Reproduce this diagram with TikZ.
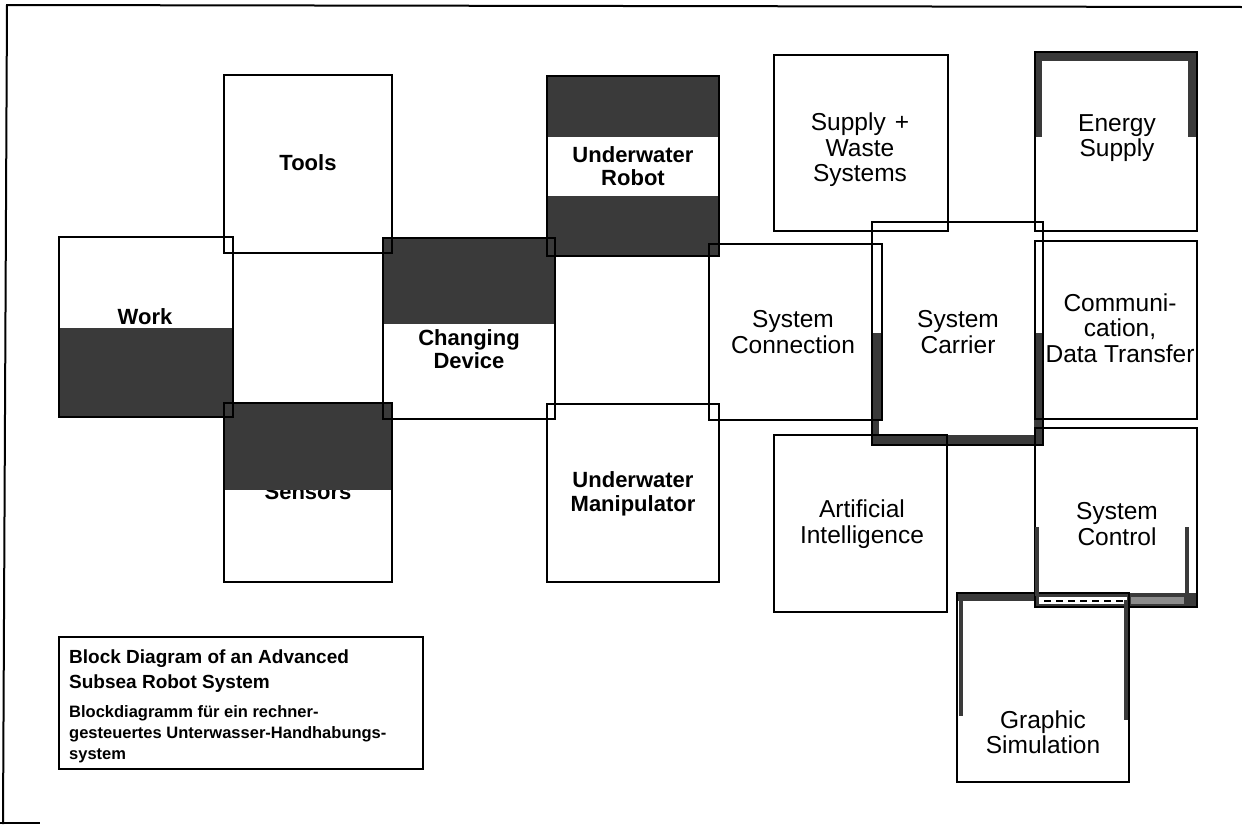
\documentclass[tikz,border=0pt]{standalone}
\usepackage{fontspec}
\setmainfont{Liberation Sans}
\usetikzlibrary{fit}
\definecolor{shade}{HTML}{3A3A3A}
\tikzset{
  blk/.style={draw=black, line width=1.4pt, inner sep=0pt, outer sep=0pt},
  lblL/.style={font=\fontsize{22}{23.5}\selectfont\bfseries, align=center, inner sep=0pt},
  lblR/.style={font=\fontsize{24.5}{25.5}\selectfont, align=center, inner sep=0pt},
  capT/.style={font=\fontsize{19}{24}\selectfont\bfseries, anchor=base west, inner sep=0pt},
  capS/.style={font=\fontsize{16.5}{21}\selectfont\bfseries, anchor=base west, inner sep=0pt},
  band/.style={fill=shade, draw=none},
  stroke/.style={draw=shade, line width=3.5pt},
}
\begin{document}
\begin{tikzpicture}[x=1pt,y=-1pt]
\useasboundingbox (0,0) rectangle (1242,825);
\fill[white] (0,0) rectangle (1242,825);

% outer frame (open on the right)
\coordinate (fbl) at (3,824);
\coordinate (ftl) at (7,5);
\coordinate (ftr) at (1242,7);
\coordinate (fb0) at (0,823);
\coordinate (fb1) at (40,823);
\draw[line width=2pt] (fbl) -- (ftl) -- (ftr);
\draw[line width=1.5pt] (fb0) -- (fb1);

% label partly hidden under the shaded band
\node[lblL, anchor=base] (lsens) at (308,499) {Sensors};

% shaded bands
\fill[band] (59,328) rectangle (233,417);     % work
\fill[band] (224,403) rectangle (392,490);    % sensors
\fill[band] (383,238) rectangle (555,324);    % changing device
\fill[band] (547,76) rectangle (719,137);     % robot, upper
\fill[band] (547,196) rectangle (719,256);    % robot, lower
% system carrier rim
\fill[band] (872,333) rectangle (882,421);
\fill[band] (872,421) rectangle (879,436);
\fill[band] (872,435) rectangle (1043,446);
\fill[band] (1034,333) rectangle (1043,446);
% energy supply rim
\fill[band] (1035,52) rectangle (1197,61);
\fill[band] (1035,52) rectangle (1042,137);
\fill[band] (1188,52) rectangle (1197,137);
% system control / graphic simulation seam
\fill[band] (1035,593) rectangle (1197,607);
\fill[white] (1039,597) rectangle (1127,604);
\fill[black!45] (1131,597) rectangle (1184,604);
\draw[shade, line width=1.5pt, dash pattern=on 7pt off 5pt] (1044,601) -- (1124,601);
\fill[band] (957,593) rectangle (1035,601);

% blocks
\node[blk, fit={(224,75) (392,253)}] (tools) {};
\node[blk, fit={(59,237) (233,417)}] (work) {};
\node[blk, fit={(224,403) (392,582)}] (sensors) {};
\node[blk, fit={(383,238) (555,419)}] (changer) {};
\node[blk, fit={(547,76) (719,256)}] (robot) {};
\node[blk, fit={(547,404) (719,582)}] (manip) {};
\node[blk, fit={(709,244) (882,420)}] (sysconn) {};
\node[blk, fit={(872,222) (1043,445)}] (carrier) {};
\node[blk, fit={(774,55) (948,231)}] (supply) {};
\node[blk, fit={(1035,52) (1197,231)}] (energy) {};
\node[blk, fit={(1035,241) (1197,419)}] (comm) {};
\node[blk, fit={(774,435) (947,612)}] (ai) {};
\node[blk, fit={(1035,428) (1197,607)}] (control) {};
\node[blk, fit={(957,593) (1129,782)}] (graphic) {};

% inner strokes
\coordinate (c1a) at (1187,527); \coordinate (c1b) at (1187,600);
\coordinate (c2a) at (1037,527); \coordinate (c2b) at (1037,596);
\coordinate (g1a) at (961,600);  \coordinate (g1b) at (961,716);
\coordinate (g2a) at (1126,600); \coordinate (g2b) at (1126,720);
\draw[stroke] (c1a) -- (c1b);
\draw[stroke] (c2a) -- (c2b);
\draw[stroke] (g1a) -- (g1b);
\draw[stroke] (g2a) -- (g2b);

% labels
\node[lblL] (ltools) at (308,163) {Tools};
\node[lblL, anchor=base] (lwork) at (145,324) {Work};
\node[lblL] (lchanger) at (469,349) {Changing\\Device};
\node[lblL] (lrobot) at (633,166) {Underwater\\Robot};
\node[lblL] (lmanip) at (633,494) {Underwater\\Manipulator};
\node[lblR] (lsysconn) at (793,332) {System\\Connection};
\node[lblR] (lcarrier) at (958,332) {System\\Carrier};
\node[lblR] (lsupply) at (860,150) {Supply\hspace{9pt}+\\Waste\\Systems};
\node[lblR] (lenergy) at (1117,138) {Energy\\Supply};
\node[lblR] (lcomm) at (1120,328) {Communi-\\cation,\\Data Transfer};
\node[lblR] (lai) at (862,524) {Artificial\\Intelligence};
\node[lblR] (lcontrol) at (1117,524) {System\\Control};
\node[lblR] (lgraphic) at (1043,732) {Graphic\\Simulation};

% caption
\node[blk, line width=1.6pt, fit={(59,637) (423,769)}] (caption) {};
\node[capT] (cap1) at (69,663) {Block Diagram of an Advanced};
\node[capT] (cap2) at (69,688) {Subsea Robot System};
\node[capS] (cap3) at (69,717) {Blockdiagramm für ein rechner-};
\node[capS] (cap4) at (69,738) {gesteuertes Unterwasser-Handhabungs-};
\node[capS] (cap5) at (69,759) {system};
\end{tikzpicture}
\end{document}
